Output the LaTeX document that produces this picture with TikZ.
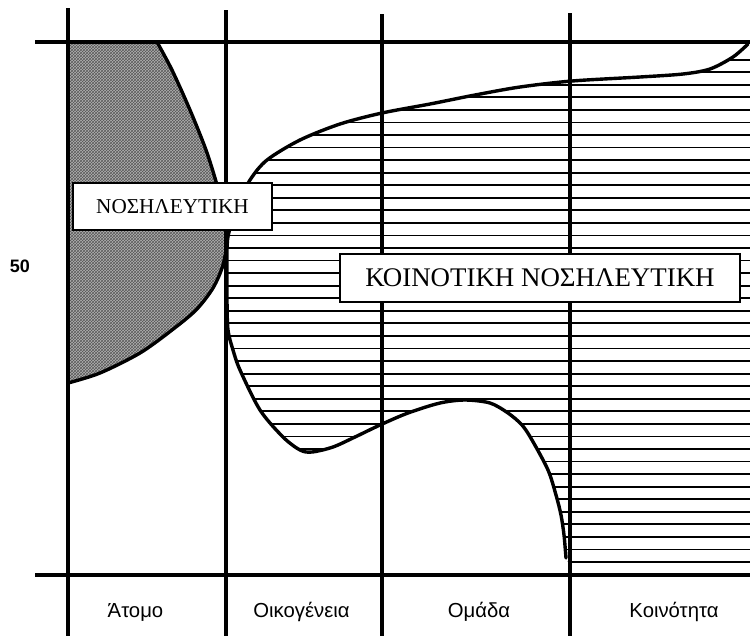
\documentclass[tikz,border=0pt]{standalone}
\usepackage{fontspec}
\setmainfont{Liberation Serif}
\newfontfamily\labelfont{Liberation Sans}
\usetikzlibrary{patterns}
\begin{document}
\begin{tikzpicture}[x=1pt,y=-1pt,
  axis/.style={line width=3.2pt},
  curve/.style={line width=3.4pt, line join=round, line cap=round},
  hatchline/.style={line width=1.8pt},
  labelbox/.style={draw, fill=white, line width=1.8pt, inner sep=0pt},
  catlabel/.style={font=\labelfont\fontsize{20.3}{20.3}\selectfont},
  numlabel/.style={font=\labelfont\bfseries\fontsize{18}{18}\selectfont}]
\useasboundingbox (0,0) rectangle (750,638);

% dark region (individual nursing)
\def\darkcurve{(157,42) (172,70) (190,110) (206,150) (217,185) (224,215) (227,240) (223,265) (213,288) (196,310) (172,330) (140,353) (100,373) (68,383)}
\fill[gray!60] (68,42) -- plot[smooth] coordinates {\darkcurve} -- cycle;
\fill[pattern=crosshatch, pattern color=black!65] (68,42) -- plot[smooth] coordinates {\darkcurve} -- cycle;

% hatched region (community nursing)
\def\commcurve{(748,44) (733,57) (710,69) (683,74) (640,77) (572,81) (520,87) (475,95) (430,104) (382,113) (340,124) (300,140) (267,160) (250,180) (238,205) (229,232) (227,250) (227,300) (228,330) (233,350) (240,370) (260,410) (283,437) (300,450) (312,452) (333,447) (355,437) (380,425) (408,413) (440,403) (465,400) (490,403) (508,413) (522,425) (532,440) (548,470) (556,495) (561,515) (564,535) (566,558)}
\begin{scope}
  \clip (750,44) -- plot[smooth] coordinates {\commcurve} -- (570,566) -- (750,566) -- cycle;
  \foreach \k in {0,...,40}
    \draw[hatchline] (226,{562-\k*12.56}) -- (750,{562-\k*12.56});
\end{scope}

% grid lines
\draw[axis] (35,42) -- (750,42);
\draw[axis] (35,575) -- (750,575);
\draw[axis] (68,8) -- (68,636);
\draw[axis] (226,10) -- (226,636);
\draw[axis] (382,14) -- (382,636);
\draw[axis] (570,13) -- (570,636);

% boundary curves
\draw[curve] plot[smooth] coordinates {\darkcurve};
\draw[curve] plot[smooth] coordinates {\commcurve};

% boxes
\node[labelbox, minimum width=199pt, minimum height=47pt, font=\fontsize{21.2}{21.2}\selectfont] (nurse) at (172.5,206.5) {ΝΟΣΗΛΕΥΤΙΚΗ};
\node[labelbox, minimum width=400pt, minimum height=48pt, font=\fontsize{26.9}{26.9}\selectfont] (community) at (540,278) {ΚΟΙΝΟΤΙΚΗ ΝΟΣΗΛΕΥΤΙΚΗ};

% labels
\node[numlabel] (fifty) at (20,266.5) {50};
\node[catlabel] (atomo) at (135.5,612) {Άτομο};
\node[catlabel] (oikogeneia) at (301.5,612) {Οικογένεια};
\node[catlabel] (omada) at (479,612) {Ομάδα};
\node[catlabel] (koinotita) at (674,612) {Κοινότητα};
\end{tikzpicture}
\end{document}
